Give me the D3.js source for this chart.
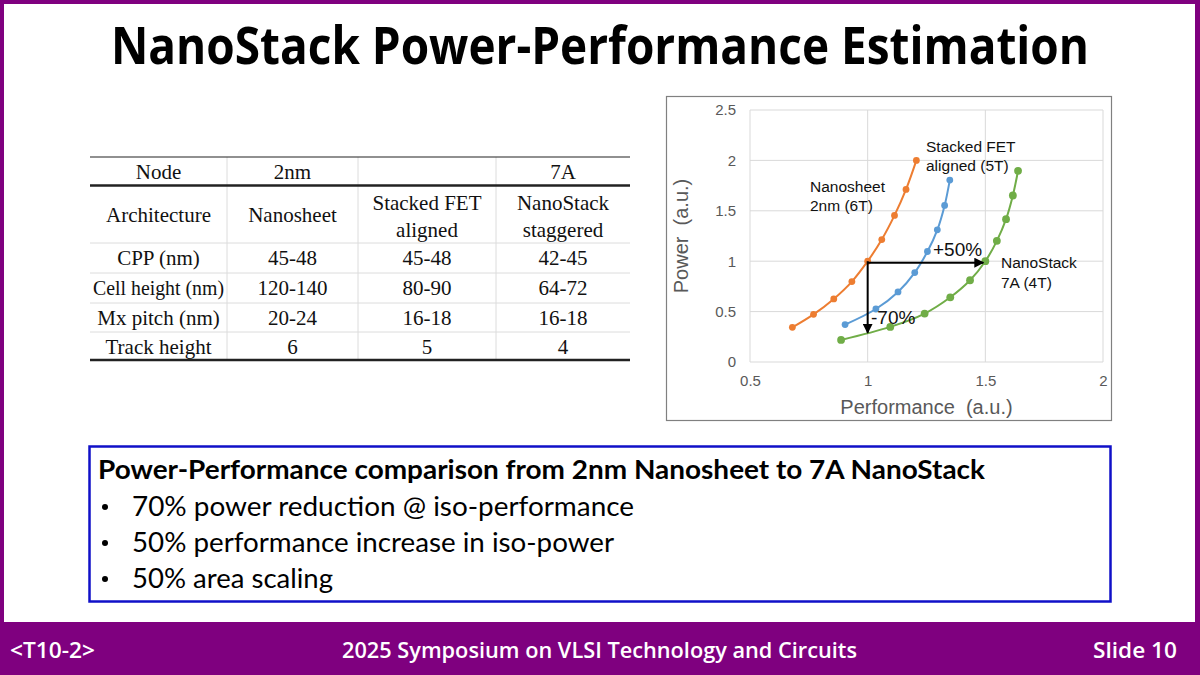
<!DOCTYPE html>
<html>
<head>
<meta charset="utf-8">
<script src="https://cdn.jsdelivr.net/npm/d3@7"></script>
<style>
  body { margin: 0; background: #fff; }
  svg { display: block; }
</style>
</head>
<body>
<svg id="slide" width="1200" height="675"></svg>
<script>
// ---- chart data ----
const nanosheetPerf  = [0.68, 0.77, 0.856, 0.933, 1.0, 1.06, 1.114, 1.163, 1.207];
const nanosheetPower = [0.344, 0.473, 0.626, 0.798, 1.0, 1.215, 1.454, 1.712, 2.0];

const stackedPerf  = [0.904, 1.035, 1.129, 1.20, 1.254, 1.296, 1.327, 1.349];
const stackedPower = [0.371, 0.526, 0.695, 0.887, 1.096, 1.311, 1.553, 1.805];

const nanostackPerf  = [0.887, 1.096, 1.242, 1.351, 1.435, 1.5, 1.549, 1.588, 1.617, 1.639];
const nanostackPower = [0.219, 0.348, 0.480, 0.642, 0.811, 1.0, 1.202, 1.417, 1.652, 1.897];

const xTicks = [0.5, 1, 1.5, 2];
const yTicks = [0, 0.5, 1, 1.5, 2, 2.5];

// table contents
const tableHeader = ['Node', '2nm', '', '7A'];
const tableArch   = ['Architecture', 'Nanosheet', 'Stacked FET\naligned', 'NanoStack\nstaggered'];
const tableRows = [
  ['CPP (nm)', '45-48', '45-48', '42-45'],
  ['Cell height (nm)', '120-140', '80-90', '64-72'],
  ['Mx pitch (nm)', '20-24', '16-18', '16-18'],
  ['Track height', '6', '5', '4']
];

const bullets = [
  '70% power reduction @ iso-performance',
  '50% performance increase in iso-power',
  '50% area scaling'
];

const svg = d3.select('#slide');
const purple = '#7f007f';

// ---- slide frame ----
svg.append('rect').attr('x', 0).attr('y', 0).attr('width', 1200).attr('height', 675).attr('fill', purple);
svg.append('rect').attr('x', 4).attr('y', 4).attr('width', 1191).attr('height', 618).attr('fill', '#fff');

// title: narrow, tall glyphs (condensed look)
svg.append('text')
  .attr('transform', 'translate(600,64) scale(1,1.18)')
  .attr('text-anchor', 'middle')
  .attr('font-family', 'Open Sans, sans-serif')
  .attr('font-weight', 700)
  .attr('font-size', 44)
  .attr('textLength', 978).attr('lengthAdjust', 'spacingAndGlyphs')
  .text('NanoStack Power-Performance Estimation');

// footer
const footer = svg.append('g')
  .attr('fill', '#fff')
  .attr('font-family', 'Open Sans, sans-serif')
  .attr('font-weight', 600)
  .attr('font-size', 21);
footer.append('text').attr('x', 10).attr('y', 658).attr('textLength', 85).attr('lengthAdjust', 'spacingAndGlyphs').text('<T10-2>');
footer.append('text').attr('x', 342).attr('y', 658).attr('textLength', 515).attr('lengthAdjust', 'spacingAndGlyphs').text('2025 Symposium on VLSI Technology and Circuits');
footer.append('text').attr('x', 1093).attr('y', 658).attr('textLength', 84).attr('lengthAdjust', 'spacingAndGlyphs').text('Slide 10');

// ---- table ----
const colX = [90, 227, 358, 496, 630];
const rowY = [157, 185.5, 243, 273, 303, 332, 360];
const table = svg.append('g')
  .attr('font-family', 'Liberation Serif, Times New Roman, serif')
  .attr('font-size', 21)
  .attr('fill', '#111');

// light vertical separators
colX.slice(1, 4).forEach(cx => {
  table.append('line').attr('x1', cx).attr('x2', cx).attr('y1', rowY[0]).attr('y2', rowY[6])
    .attr('stroke', '#dcdcdc').attr('stroke-width', 1);
});
// light horizontal separators
[2, 3, 4, 5].forEach(i => {
  table.append('line').attr('x1', colX[0]).attr('x2', colX[4]).attr('y1', rowY[i]).attr('y2', rowY[i])
    .attr('stroke', '#dcdcdc').attr('stroke-width', 1);
});
table.append('line').attr('x1', colX[0]).attr('x2', colX[4]).attr('y1', rowY[0]).attr('y2', rowY[0])
  .attr('stroke', '#222').attr('stroke-width', 1.2);
table.append('line').attr('x1', colX[0]).attr('x2', colX[4]).attr('y1', rowY[1]).attr('y2', rowY[1])
  .attr('stroke', '#222').attr('stroke-width', 2.5);
table.append('line').attr('x1', colX[0]).attr('x2', colX[4]).attr('y1', rowY[6]).attr('y2', rowY[6])
  .attr('stroke', '#222').attr('stroke-width', 2.5);

const colMid = i => (colX[i] + colX[i + 1]) / 2;
const fitText = (sel, maxW) => {
  const w = sel.node().getComputedTextLength();
  if (w > maxW) sel.attr('textLength', maxW).attr('lengthAdjust', 'spacingAndGlyphs');
};
tableHeader.forEach((t, i) => {
  table.append('text').attr('x', colMid(i)).attr('y', 179).attr('text-anchor', 'middle').text(t);
});
tableArch.forEach((t, i) => {
  const lines = t.split('\n');
  const y0 = lines.length === 1 ? 222 : 210;
  lines.forEach((ln, k) => {
    const tx = table.append('text').attr('x', colMid(i)).attr('y', y0 + k * 27).attr('text-anchor', 'middle').text(ln);
    fitText(tx, 128);
  });
});
tableRows.forEach((row, r) => {
  row.forEach((t, i) => {
    const tx = table.append('text').attr('x', colMid(i)).attr('y', rowY[r + 2] + 22).attr('text-anchor', 'middle').text(t);
    fitText(tx, 131);
  });
});

// ---- chart ----
svg.append('rect').attr('x', 666.5).attr('y', 96.5).attr('width', 445).attr('height', 324)
  .attr('fill', '#fff').attr('stroke', '#808080').attr('stroke-width', 1.2);

const x = d3.scaleLinear().domain([0.5, 2]).range([750, 1103]);
const y = d3.scaleLinear().domain([0, 2.5]).range([362, 110]);

const chart = svg.append('g').attr('font-family', 'Liberation Sans, Arial, sans-serif');

chart.append('g').selectAll('line').data(xTicks).join('line')
  .attr('x1', d => x(d)).attr('x2', d => x(d)).attr('y1', y(0)).attr('y2', y(2.5))
  .attr('stroke', '#d9d9d9').attr('stroke-width', 1);
chart.append('g').selectAll('line').data(yTicks).join('line')
  .attr('x1', x(0.5)).attr('x2', x(2)).attr('y1', d => y(d)).attr('y2', d => y(d))
  .attr('stroke', '#d9d9d9').attr('stroke-width', 1);

const xAxis = chart.append('g').attr('transform', `translate(0,${y(0)})`)
  .call(d3.axisBottom(x).tickValues(xTicks).tickSize(0).tickPadding(13).tickFormat(d3.format('')));
const yAxis = chart.append('g').attr('transform', `translate(${x(0.5)},0)`)
  .call(d3.axisLeft(y).tickValues(yTicks).tickSize(0).tickPadding(14).tickFormat(d3.format('')));
[xAxis, yAxis].forEach(a => {
  a.select('.domain').remove();
  a.selectAll('text').attr('fill', '#595959').attr('font-size', 15).attr('font-family', 'Liberation Sans, Arial, sans-serif');
});

chart.append('text').attr('x', (x(0.5) + x(2)) / 2).attr('y', 414).attr('text-anchor', 'middle')
  .attr('fill', '#595959').attr('font-size', 20).attr('xml:space', 'preserve').text('Performance  (a.u.)');
chart.append('text').attr('transform', `translate(688,${(y(0) + y(2.5)) / 2}) rotate(-90)`)
  .attr('text-anchor', 'middle').attr('fill', '#595959').attr('font-size', 20)
  .attr('xml:space', 'preserve').text('Power  (a.u.)');

const series = [
  { perf: nanosheetPerf, power: nanosheetPower, color: '#ed7d31', r: 3.4 },
  { perf: stackedPerf, power: stackedPower, color: '#5b9bd5', r: 3.4 },
  { perf: nanostackPerf, power: nanostackPower, color: '#70ad47', r: 3.9 }
];
const line = d3.line().x(d => x(d[0])).y(d => y(d[1])).curve(d3.curveCatmullRom.alpha(0.5));
series.forEach(s => {
  const pts = s.perf.map((p, i) => [p, s.power[i]]);
  chart.append('path').datum(pts).attr('d', line)
    .attr('fill', 'none').attr('stroke', s.color).attr('stroke-width', 2);
  chart.append('g').selectAll('circle').data(pts).join('circle')
    .attr('cx', d => x(d[0])).attr('cy', d => y(d[1])).attr('r', s.r).attr('fill', s.color);
});

// arrows
const defs = svg.append('defs');
defs.append('marker').attr('id', 'arrow').attr('viewBox', '0 0 10 10')
  .attr('refX', 9).attr('refY', 5).attr('markerWidth', 5).attr('markerHeight', 5)
  .attr('orient', 'auto')
  .append('path').attr('d', 'M0,0 L10,5 L0,10 z').attr('fill', '#000');
chart.append('line').attr('x1', x(1)).attr('y1', y(1) + 1.5).attr('x2', x(1.5) - 2).attr('y2', y(1) + 1.5)
  .attr('stroke', '#000').attr('stroke-width', 2).attr('marker-end', 'url(#arrow)');
chart.append('line').attr('x1', x(1)).attr('y1', y(1)).attr('x2', x(1)).attr('y2', y(0.29))
  .attr('stroke', '#000').attr('stroke-width', 2).attr('marker-end', 'url(#arrow)');

// labels
const lab = chart.append('g').attr('fill', '#111').attr('font-size', 15.5).attr('xml:space', 'preserve');
lab.append('text').attr('x', 926).attr('y', 152).text('Stacked FET');
lab.append('text').attr('x', 926).attr('y', 171).text('aligned  (5T)');
lab.append('text').attr('x', 810).attr('y', 192).text('Nanosheet');
lab.append('text').attr('x', 810).attr('y', 211).text('2nm (6T)');
lab.append('text').attr('x', 1001).attr('y', 268).text('NanoStack');
lab.append('text').attr('x', 1001).attr('y', 288).text('7A (4T)');
lab.append('text').attr('x', 933).attr('y', 256).attr('font-size', 19).text('+50%');
lab.append('text').attr('x', 871).attr('y', 324).attr('font-size', 19).text('-70%');

// ---- summary box ----
svg.append('rect').attr('x', 89.5).attr('y', 446.5).attr('width', 1021).attr('height', 155)
  .attr('fill', '#fff').attr('stroke', '#1010c8').attr('stroke-width', 2.5);
const box = svg.append('g').attr('font-family', 'Lato, Open Sans, sans-serif').attr('fill', '#000');
box.append('text').attr('x', 98).attr('y', 479).attr('font-weight', 700).attr('font-size', 26)
  .attr('textLength', 887).attr('lengthAdjust', 'spacingAndGlyphs')
  .text('Power-Performance comparison from 2nm Nanosheet to 7A NanoStack');
const bulletWidths = [502, 482, 201];
bullets.forEach((b, i) => {
  const by = 516 + i * 36;
  box.append('circle').attr('cx', 105).attr('cy', by - 9).attr('r', 3);
  box.append('text').attr('x', 132).attr('y', by).attr('font-size', 27)
    .attr('textLength', bulletWidths[i]).attr('lengthAdjust', 'spacingAndGlyphs').text(b);
});
</script>
</body>
</html>
